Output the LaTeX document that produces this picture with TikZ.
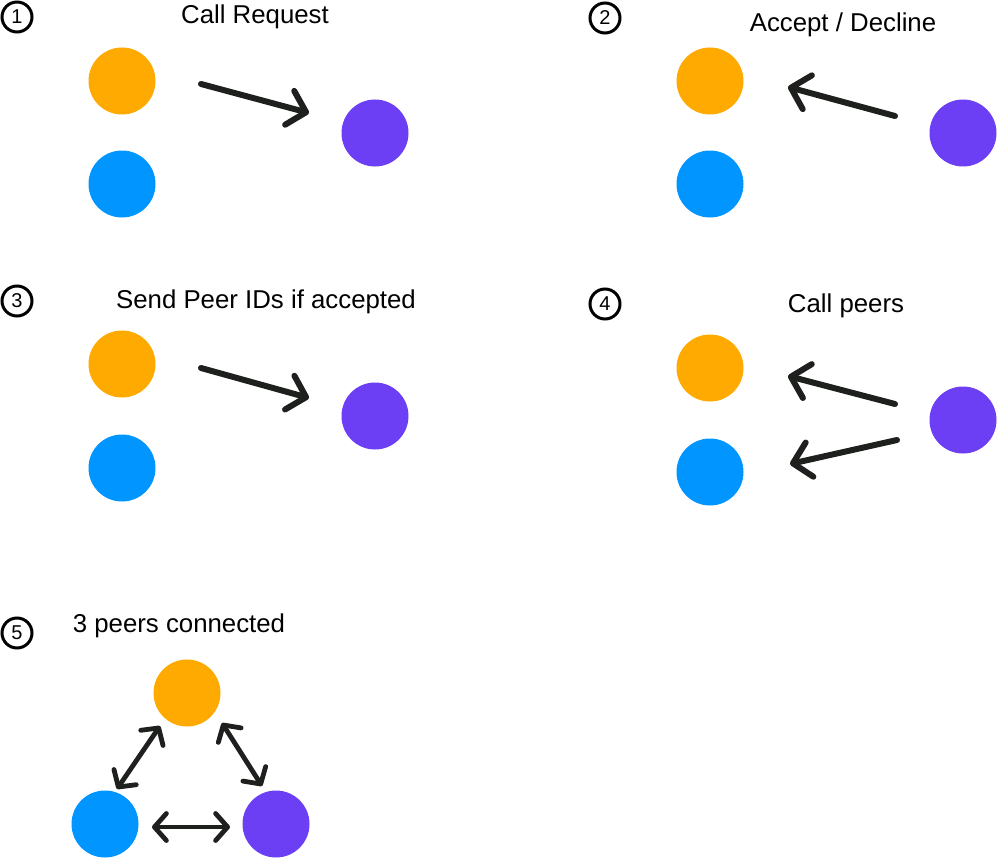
\documentclass[tikz,border=0pt]{standalone}
\usepackage{fontspec}
\setmainfont{Liberation Sans}
\usetikzlibrary{arrows.meta}
\definecolor{corange}{HTML}{FFAA00}
\definecolor{cblue}{HTML}{0095FF}
\definecolor{cpurple}{HTML}{6C3FF5}
\definecolor{cink}{HTML}{1E201D}
\tikzset{
  peer/.style={circle, minimum size=67pt, inner sep=0pt, fill=#1},
  conn/.style={draw=cink, line width=6pt, line cap=round, line join=round,
    -{Straight Barb[length=17pt, width=35pt, line join=round, line cap=round]}},
  bconn/.style={draw=cink, line width=4.8pt, line cap=round, line join=round,
    {Straight Barb[length=12pt, width=27pt, line join=round, line cap=round]}-{Straight Barb[length=12pt, width=27pt, line join=round, line cap=round]}},
  numc/.style={circle, draw=black, line width=3pt, minimum size=30pt, inner sep=0pt, font=\fontsize{20}{20}\selectfont},
  lbl/.style={anchor=base, inner sep=0pt, font=\fontsize{25.8}{25.8}\selectfont}
}
\begin{document}
\begin{tikzpicture}[x=1pt,y=-1pt]
\useasboundingbox (0,0) rectangle (997,859);
% step 1
\node[numc] (n1) at (17,17) {1};
\node[lbl] (t1) at (255,24) {Call Request};
\node[peer=corange] (o1) at (122,81) {};
\node[peer=cblue] (b1) at (122,184) {};
\node[peer=cpurple] (p1) at (375,133) {};
\coordinate (a1s) at (201,84);
\coordinate (a1e) at (309,113);
\draw[conn] (a1s) -- (a1e);
% step 2
\node[numc] (n2) at (605,18) {2};
\node[lbl] (t2) at (843,32) {Accept / Decline};
\node[peer=corange] (o2) at (710,81) {};
\node[peer=cblue] (b2) at (710,184) {};
\node[peer=cpurple] (p2) at (963,133) {};
\coordinate (a2s) at (895,116);
\coordinate (a2e) at (788,87);
\draw[conn] (a2s) -- (a2e);
% step 3
\node[numc] (n3) at (17,301) {3};
\node[lbl] (t3) at (266,308) {Send Peer IDs if accepted};
\node[peer=corange] (o3) at (122,364) {};
\node[peer=cblue] (b3) at (122,468) {};
\node[peer=cpurple] (p3) at (375,416) {};
\coordinate (a3s) at (201,368);
\coordinate (a3e) at (309,398);
\draw[conn] (a3s) -- (a3e);
% step 4
\node[numc] (n4) at (605,304) {4};
\node[lbl] (t4) at (846,312) {Call peers};
\node[peer=corange] (o4) at (710,368) {};
\node[peer=cblue] (b4) at (710,472) {};
\node[peer=cpurple] (p4) at (963,420) {};
\coordinate (a4s) at (895,404);
\coordinate (a4e) at (788,376);
\coordinate (a5s) at (897,440);
\coordinate (a5e) at (790,464);
\draw[conn] (a4s) -- (a4e);
\draw[conn] (a5s) -- (a5e);
% step 5
\node[numc] (n5) at (17,633) {5};
\node[lbl] (t5) at (179,632) {3 peers connected};
\node[peer=corange] (o5) at (187,693) {};
\node[peer=cblue] (b5) at (105,824) {};
\node[peer=cpurple] (p5) at (276,824) {};
\coordinate (c1s) at (160,726);
\coordinate (c1e) at (117,789);
\coordinate (c2s) at (222,723);
\coordinate (c2e) at (262,786);
\coordinate (c3s) at (152,827);
\coordinate (c3e) at (230,827);
\draw[bconn] (c1s) -- (c1e);
\draw[bconn] (c2s) -- (c2e);
\draw[bconn] (c3s) -- (c3e);
\end{tikzpicture}
\end{document}
